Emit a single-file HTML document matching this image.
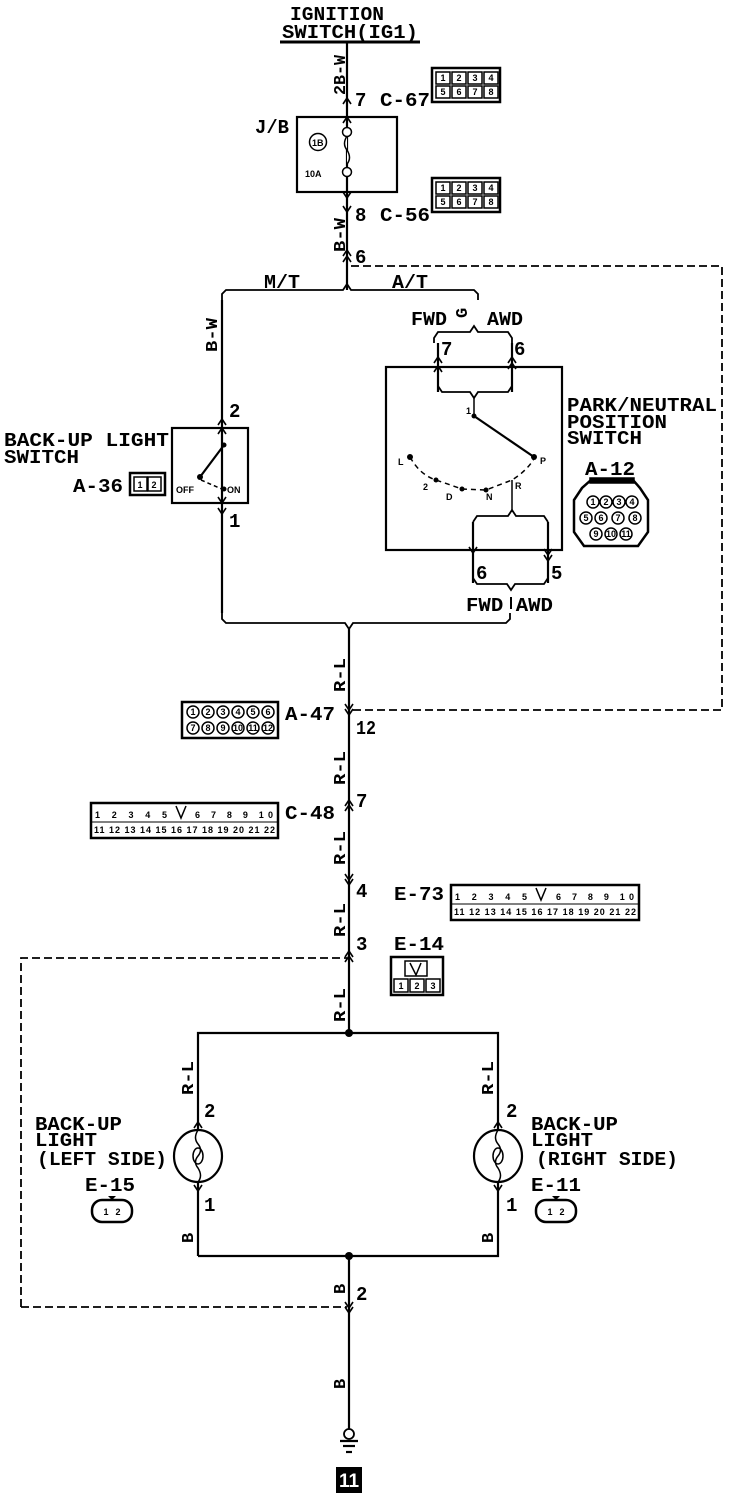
<!DOCTYPE html>
<html><head><meta charset="utf-8"><style>
html,body{margin:0;padding:0;background:#fff}
svg{display:block}
text{font-family:"Liberation Mono",monospace;fill:#000}
.l{font-size:19px;font-weight:bold}
.s{font-size:9px;font-weight:bold;font-family:"Liberation Sans",sans-serif}
.c{font-size:9px;font-weight:bold;font-family:"Liberation Sans",sans-serif;text-anchor:middle}
.w{font-size:17px;font-weight:bold}
</style></head><body>
<svg width="736" height="1500" viewBox="0 0 736 1500" xmlns="http://www.w3.org/2000/svg">
<g fill="none" stroke="#000" stroke-width="2.2">
<line x1="280" y1="42" x2="420" y2="42" stroke-width="3"/>
<line x1="347" y1="42" x2="347" y2="290"/>
<rect x="297" y="117" width="100" height="75"/>
<polyline points="222,300 222,294 226,290 343,290 347,284 351,290 474,290 478,294 478,300" stroke-width="1.8"/>
<polyline points="351,266 722,266 722,710 351,710" stroke-dasharray="8,4" stroke-width="1.8"/>
<line x1="222" y1="300" x2="222" y2="613"/>
<rect x="172" y="428" width="76" height="75"/>
<line x1="200" y1="477" x2="224" y2="445"/>
<line x1="201" y1="480" x2="224" y2="490" stroke-dasharray="4,3" stroke-width="1.5"/>
<polyline points="222,613 222,619 226,623 345,623 349,629 353,623 506,623 510,619 510,613" stroke-width="1.8"/>
<rect x="386" y="367" width="176" height="183"/>
<line x1="438" y1="343" x2="438" y2="392"/>
<line x1="512" y1="343" x2="512" y2="392"/>
<polyline points="434,343 434,338 438,332 470,332 474,326 478,332 508,332 512,338 512,343" stroke-width="1.8"/>
<polyline points="438,386 442,392 470,392 474,398 478,392 508,392 512,386" stroke-width="1.8"/>
<line x1="474" y1="398" x2="474" y2="414" stroke-width="1.5"/>
<line x1="474" y1="416" x2="534" y2="457"/>
<path d="M410,457 Q420,475 436,480 L462,489 L486,490 L512,480 Q528,470 535,457" stroke-dasharray="5,4" stroke-width="1.5"/>
<line x1="512" y1="480" x2="512" y2="512" stroke-width="1.5"/>
<polyline points="473,522 477,516 508,516 512,510 516,516 544,516 548,522" stroke-width="1.8"/>
<line x1="473" y1="522" x2="473" y2="583"/>
<line x1="548" y1="522" x2="548" y2="583"/>
<polyline points="473,578 477,584 507,584 511,590 515,584 544,584 548,578" stroke-width="1.8"/>
<line x1="349" y1="629" x2="349" y2="1033"/>
<line x1="349" y1="1256" x2="349" y2="1429"/>
<polyline points="21,1307 21,958 347,958" stroke-dasharray="8,4" stroke-width="1.8"/>
<polyline points="21,1307 347,1307" stroke-dasharray="8,4" stroke-width="1.8"/>
<polyline points="198,1256 198,1033 498,1033 498,1256 198,1256"/>
<ellipse cx="198" cy="1156" rx="24" ry="26" fill="#fff"/>
<ellipse cx="498" cy="1156" rx="24" ry="26" fill="#fff"/>
<path d="M198,1130 q-5,8 0,14 q5,6 0,12 q-5,6 0,12 q5,8 0,14" stroke-width="1.5"/>
<path d="M498,1130 q-5,8 0,14 q5,6 0,12 q-5,6 0,12 q5,8 0,14" stroke-width="1.5"/>
<ellipse cx="198" cy="1156" rx="5" ry="8" stroke-width="1.5"/>
<ellipse cx="498" cy="1156" rx="5" ry="8" stroke-width="1.5"/>
<path d="M347,136 q-5,8 0,14 q5,8 0,14" fill="#fff" stroke-width="1.5"/>
<circle cx="318" cy="142" r="8.5" stroke-width="1.5"/>
<g stroke-width="1.6">
<polyline points="343,104 347,98 351,104"/>
<polyline points="343,123 347,117 351,123"/>
<polyline points="343,192 347,198 351,192"/>
<polyline points="343,206 347,212 351,206"/>
<polyline points="343,256 347,250 351,256"/><polyline points="343,262 347,256 351,262"/>
<polyline points="218,434 222,428 226,434"/><polyline points="218,425 222,419 226,425"/>
<polyline points="218,497 222,503 226,497"/><polyline points="218,508 222,514 226,508"/>
<polyline points="434,363 438,357 442,363"/><polyline points="434,372 438,366 442,372"/>
<polyline points="508,363 512,357 516,363"/><polyline points="508,369 512,363 516,369"/>
<polyline points="469,547 473,553 477,547"/>
<polyline points="544,549 548,555 552,549"/><polyline points="544,555 548,561 552,555"/>
<polyline points="345,704 349,710 353,704"/><polyline points="345,709 349,715 353,709"/>
<polyline points="345,806 349,800 353,806"/><polyline points="345,811 349,805 353,811"/>
<polyline points="345,874 349,880 353,874"/><polyline points="345,879 349,885 353,879"/>
<polyline points="345,957 349,951 353,957"/><polyline points="345,962 349,956 353,962"/>
<polyline points="194,1128 198,1122 202,1128"/><polyline points="194,1185 198,1191 202,1185"/>
<polyline points="494,1128 498,1122 502,1128"/><polyline points="494,1185 498,1191 502,1185"/>
<polyline points="345,1302 349,1308 353,1302"/><polyline points="345,1307 349,1313 353,1307"/>
</g>
<circle cx="349" cy="1434" r="5" fill="#fff" stroke-width="1.8"/>
<line x1="340" y1="1441" x2="358" y2="1441"/>
<line x1="343" y1="1446" x2="355" y2="1446"/>
<line x1="346" y1="1452" x2="352" y2="1452"/>
</g>
<g fill="#fff" stroke="#000" stroke-width="1.5">
<circle cx="347" cy="132" r="4.5"/><circle cx="347" cy="172" r="4.5"/>
</g>
<g fill="#000">
<circle cx="200" cy="477" r="3"/><circle cx="224" cy="445" r="2.5"/><circle cx="224" cy="489" r="2.5"/>
<circle cx="474" cy="416" r="2.5"/><circle cx="410" cy="457" r="3"/><circle cx="436" cy="480" r="2.5"/>
<circle cx="462" cy="489" r="2.5"/><circle cx="486" cy="490" r="2.5"/><circle cx="534" cy="457" r="3"/>
<circle cx="349" cy="1033" r="4"/><circle cx="349" cy="1256" r="4"/>
<rect x="336" y="1467" width="26" height="26"/>
</g>
<text class="l" x="290" y="20" textLength="94" lengthAdjust="spacingAndGlyphs">IGNITION</text>
<text class="l" x="282" y="38" textLength="136" lengthAdjust="spacingAndGlyphs">SWITCH(IG1)</text>
<text class="w" x="0" y="0" transform="translate(345,95) rotate(-90)" textLength="40" lengthAdjust="spacingAndGlyphs">2B-W</text>
<text class="l" x="355" y="106">7</text>
<text class="l" x="380" y="106" textLength="50" lengthAdjust="spacingAndGlyphs">C-67</text>
<text class="l" x="255" y="133" textLength="34" lengthAdjust="spacingAndGlyphs">J/B</text>
<text class="s" x="312" y="146">1B</text>
<text class="s" x="305" y="177">10A</text>
<text class="l" x="355" y="221">8</text>
<text class="l" x="380" y="221" textLength="50" lengthAdjust="spacingAndGlyphs">C-56</text>
<text class="w" x="0" y="0" transform="translate(345,252) rotate(-90)" textLength="34" lengthAdjust="spacingAndGlyphs">B-W</text>
<text class="l" x="355" y="263">6</text>
<text class="l" x="264" y="288" textLength="36" lengthAdjust="spacingAndGlyphs">M/T</text>
<text class="l" x="392" y="288" textLength="36" lengthAdjust="spacingAndGlyphs">A/T</text>
<text class="w" x="0" y="0" transform="translate(217,352) rotate(-90)" textLength="34" lengthAdjust="spacingAndGlyphs">B-W</text>
<text class="l" x="229" y="417">2</text>
<text class="l" x="229" y="527">1</text>
<text class="l" x="4" y="446" textLength="165" lengthAdjust="spacingAndGlyphs">BACK-UP LIGHT</text>
<text class="l" x="4" y="463" textLength="75" lengthAdjust="spacingAndGlyphs">SWITCH</text>
<text class="l" x="73" y="492" textLength="50" lengthAdjust="spacingAndGlyphs">A-36</text>
<text class="s" x="176" y="493" font-size="8">OFF</text>
<text class="s" x="227" y="493" font-size="8">ON</text>
<text class="l" x="411" y="325" textLength="36" lengthAdjust="spacingAndGlyphs">FWD</text>
<text class="w" x="0" y="0" transform="translate(467,318) rotate(-90)">G</text>
<text class="l" x="487" y="325" textLength="36" lengthAdjust="spacingAndGlyphs">AWD</text>
<text class="l" x="441" y="355">7</text>
<text class="l" x="514" y="355">6</text>
<text class="s" x="466" y="414">1</text>
<text class="s" x="398" y="465" font-size="11">L</text>
<text class="s" x="423" y="490" font-size="11">2</text>
<text class="s" x="446" y="500" font-size="11">D</text>
<text class="s" x="486" y="500" font-size="11">N</text>
<text class="s" x="515" y="489" font-size="11">R</text>
<text class="s" x="540" y="464" font-size="11">P</text>
<text class="l" x="476" y="579">6</text>
<text class="l" x="551" y="579">5</text>
<text class="l" x="466" y="611" textLength="87" lengthAdjust="spacingAndGlyphs">FWD AWD</text>
<line x1="511" y1="597" x2="511" y2="609" stroke="#000" stroke-width="2"/>
<text class="l" x="567" y="411" textLength="150" lengthAdjust="spacingAndGlyphs">PARK/NEUTRAL</text>
<text class="l" x="567" y="428" textLength="100" lengthAdjust="spacingAndGlyphs">POSITION</text>
<text class="l" x="567" y="444" textLength="75" lengthAdjust="spacingAndGlyphs">SWITCH</text>
<text class="l" x="585" y="475" textLength="50" lengthAdjust="spacingAndGlyphs">A-12</text>
<text class="w" x="0" y="0" transform="translate(345,692) rotate(-90)" textLength="34" lengthAdjust="spacingAndGlyphs">R-L</text>
<text class="l" x="285" y="720" textLength="50" lengthAdjust="spacingAndGlyphs">A-47</text>
<text class="l" x="356" y="734" textLength="20" lengthAdjust="spacingAndGlyphs">12</text>
<text class="w" x="0" y="0" transform="translate(345,785) rotate(-90)" textLength="34" lengthAdjust="spacingAndGlyphs">R-L</text>
<text class="l" x="356" y="807">7</text>
<text class="l" x="285" y="819" textLength="50" lengthAdjust="spacingAndGlyphs">C-48</text>
<text class="w" x="0" y="0" transform="translate(345,865) rotate(-90)" textLength="34" lengthAdjust="spacingAndGlyphs">R-L</text>
<text class="l" x="356" y="897">4</text>
<text class="l" x="394" y="900" textLength="50" lengthAdjust="spacingAndGlyphs">E-73</text>
<text class="w" x="0" y="0" transform="translate(345,937) rotate(-90)" textLength="34" lengthAdjust="spacingAndGlyphs">R-L</text>
<text class="l" x="356" y="950">3</text>
<text class="l" x="394" y="950" textLength="50" lengthAdjust="spacingAndGlyphs">E-14</text>
<text class="w" x="0" y="0" transform="translate(345,1022) rotate(-90)" textLength="34" lengthAdjust="spacingAndGlyphs">R-L</text>
<text class="w" x="0" y="0" transform="translate(193,1095) rotate(-90)" textLength="34" lengthAdjust="spacingAndGlyphs">R-L</text>
<text class="w" x="0" y="0" transform="translate(493,1095) rotate(-90)" textLength="34" lengthAdjust="spacingAndGlyphs">R-L</text>
<text class="l" x="204" y="1117">2</text>
<text class="l" x="506" y="1117">2</text>
<text class="l" x="204" y="1211">1</text>
<text class="l" x="506" y="1211">1</text>
<text class="l" x="35" y="1130" textLength="87" lengthAdjust="spacingAndGlyphs">BACK-UP</text>
<text class="l" x="35" y="1146" textLength="62" lengthAdjust="spacingAndGlyphs">LIGHT</text>
<text class="l" x="37" y="1165" textLength="130" lengthAdjust="spacingAndGlyphs">(LEFT SIDE)</text>
<text class="l" x="85" y="1191" textLength="50" lengthAdjust="spacingAndGlyphs">E-15</text>
<text class="l" x="531" y="1130" textLength="87" lengthAdjust="spacingAndGlyphs">BACK-UP</text>
<text class="l" x="531" y="1146" textLength="62" lengthAdjust="spacingAndGlyphs">LIGHT</text>
<text class="l" x="536" y="1165" textLength="142" lengthAdjust="spacingAndGlyphs">(RIGHT SIDE)</text>
<text class="l" x="531" y="1191" textLength="50" lengthAdjust="spacingAndGlyphs">E-11</text>
<text class="w" x="0" y="0" transform="translate(193,1243) rotate(-90)">B</text>
<text class="w" x="0" y="0" transform="translate(493,1243) rotate(-90)">B</text>
<text class="w" x="0" y="0" transform="translate(345,1294) rotate(-90)">B</text>
<text class="l" x="356" y="1300">2</text>
<text class="w" x="0" y="0" transform="translate(345,1389) rotate(-90)">B</text>
<text x="349" y="1487" text-anchor="middle" style="font-family:'Liberation Sans',sans-serif;font-weight:bold;font-size:19px;fill:#fff">11</text>

<g stroke="#000" fill="#fff" stroke-width="1.5">
<rect x="432" y="68" width="68" height="34" stroke-width="2.5"/>
<rect x="436" y="72" width="14" height="12"/><rect x="452" y="72" width="14" height="12"/><rect x="468" y="72" width="14" height="12"/><rect x="484" y="72" width="14" height="12"/>
<rect x="436" y="86" width="14" height="12"/><rect x="452" y="86" width="14" height="12"/><rect x="468" y="86" width="14" height="12"/><rect x="484" y="86" width="14" height="12"/>
<rect x="432" y="178" width="68" height="34" stroke-width="2.5"/>
<rect x="436" y="182" width="14" height="12"/><rect x="452" y="182" width="14" height="12"/><rect x="468" y="182" width="14" height="12"/><rect x="484" y="182" width="14" height="12"/>
<rect x="436" y="196" width="14" height="12"/><rect x="452" y="196" width="14" height="12"/><rect x="468" y="196" width="14" height="12"/><rect x="484" y="196" width="14" height="12"/>
<rect x="130" y="473" width="35" height="22" stroke-width="2.5"/>
<rect x="134" y="477" width="13" height="14"/><rect x="148" y="477" width="13" height="14"/>
<rect x="182" y="702" width="96" height="36" stroke-width="2.5"/>
<circle cx="193" cy="712" r="6"/><circle cx="208" cy="712" r="6"/><circle cx="223" cy="712" r="6"/><circle cx="238" cy="712" r="6"/><circle cx="253" cy="712" r="6"/><circle cx="268" cy="712" r="6"/>
<circle cx="193" cy="728" r="6"/><circle cx="208" cy="728" r="6"/><circle cx="223" cy="728" r="6"/><circle cx="238" cy="728" r="6"/><circle cx="253" cy="728" r="6"/><circle cx="268" cy="728" r="6"/>
<path d="M591,480 L633,480 L640,488 L648,500 L648,532 L638,546 L584,546 L574,532 L574,500 L582,488 Z" stroke-width="2.5"/>
<rect x="590" y="478" width="44" height="5" fill="#000"/>
<circle cx="593" cy="502" r="6"/><circle cx="606" cy="502" r="6"/><circle cx="619" cy="502" r="6"/><circle cx="632" cy="502" r="6"/>
<circle cx="586" cy="518" r="6"/><circle cx="601" cy="518" r="6"/><circle cx="618" cy="518" r="6"/><circle cx="635" cy="518" r="6"/>
<circle cx="596" cy="534" r="6"/><circle cx="611" cy="534" r="6"/><circle cx="626" cy="534" r="6"/>
<rect x="391" y="957" width="52" height="38" stroke-width="2.5"/>
<rect x="405" y="961" width="22" height="15"/>
<rect x="394" y="979" width="14" height="13"/><rect x="410" y="979" width="14" height="13"/><rect x="426" y="979" width="14" height="13"/>
<rect x="92" y="1200" width="40" height="22" rx="10" stroke-width="2.5"/>
<rect x="536" y="1200" width="40" height="22" rx="10" stroke-width="2.5"/>
<rect x="91" y="803" width="187" height="35" stroke-width="2.5"/>
<rect x="451" y="885" width="188" height="35" stroke-width="2.5"/>
</g>
<g fill="#000">
<polygon points="108,1196 116,1196 112,1200"/><polygon points="552,1196 560,1196 556,1200"/>
</g>
<g stroke="#000" fill="none" stroke-width="1.5">
<polyline points="410,963 416,975 421,963"/>
<polyline points="176,806 181,818 186,806"/>
<polyline points="536,888 541,900 546,888"/>
<line x1="91" y1="822" x2="278" y2="822" stroke-width="1"/>
<line x1="451" y1="904" x2="639" y2="904" stroke-width="1"/>
</g>
<g>
<text class="c" x="443" y="81">1</text><text class="c" x="459" y="81">2</text><text class="c" x="475" y="81">3</text><text class="c" x="491" y="81">4</text>
<text class="c" x="443" y="95">5</text><text class="c" x="459" y="95">6</text><text class="c" x="475" y="95">7</text><text class="c" x="491" y="95">8</text>
<text class="c" x="443" y="191">1</text><text class="c" x="459" y="191">2</text><text class="c" x="475" y="191">3</text><text class="c" x="491" y="191">4</text>
<text class="c" x="443" y="205">5</text><text class="c" x="459" y="205">6</text><text class="c" x="475" y="205">7</text><text class="c" x="491" y="205">8</text>
<text class="c" x="140" y="488">1</text><text class="c" x="154" y="488">2</text>
<text class="c" x="193" y="715" font-size="8">1</text><text class="c" x="208" y="715" font-size="8">2</text><text class="c" x="223" y="715" font-size="8">3</text><text class="c" x="238" y="715" font-size="8">4</text><text class="c" x="253" y="715" font-size="8">5</text><text class="c" x="268" y="715" font-size="8">6</text>
<text class="c" x="193" y="731" font-size="8">7</text><text class="c" x="208" y="731" font-size="8">8</text><text class="c" x="223" y="731" font-size="8">9</text><text class="c" x="238" y="731" font-size="7">10</text><text class="c" x="253" y="731" font-size="7">11</text><text class="c" x="268" y="731" font-size="7">12</text>
<text class="c" x="593" y="505" font-size="7">1</text><text class="c" x="606" y="505" font-size="7">2</text><text class="c" x="619" y="505" font-size="7">3</text><text class="c" x="632" y="505" font-size="7">4</text>
<text class="c" x="586" y="521" font-size="7">5</text><text class="c" x="601" y="521" font-size="7">6</text><text class="c" x="618" y="521" font-size="7">7</text><text class="c" x="635" y="521" font-size="7">8</text>
<text class="c" x="596" y="537" font-size="7">9</text><text class="c" x="611" y="537" font-size="6">10</text><text class="c" x="626" y="537" font-size="6">11</text>
<text class="c" x="401" y="989">1</text><text class="c" x="417" y="989">2</text><text class="c" x="433" y="989">3</text>
<text class="c" x="106" y="1215">1</text><text class="c" x="118" y="1215">2</text>
<text class="c" x="550" y="1215">1</text><text class="c" x="562" y="1215">2</text>
<text class="s" x="95" y="818" font-size="8" textLength="72">1 2 3 4 5</text>
<text class="s" x="195" y="818" font-size="8" textLength="78">6 7 8 9 10</text>
<text class="s" x="94" y="833" font-size="8" textLength="181">11 12 13 14 15 16 17 18 19 20 21 22</text>
<text class="s" x="455" y="900" font-size="8" textLength="72">1 2 3 4 5</text>
<text class="s" x="556" y="900" font-size="8" textLength="78">6 7 8 9 10</text>
<text class="s" x="454" y="915" font-size="8" textLength="182">11 12 13 14 15 16 17 18 19 20 21 22</text>
</g>
</svg>
</body></html>
